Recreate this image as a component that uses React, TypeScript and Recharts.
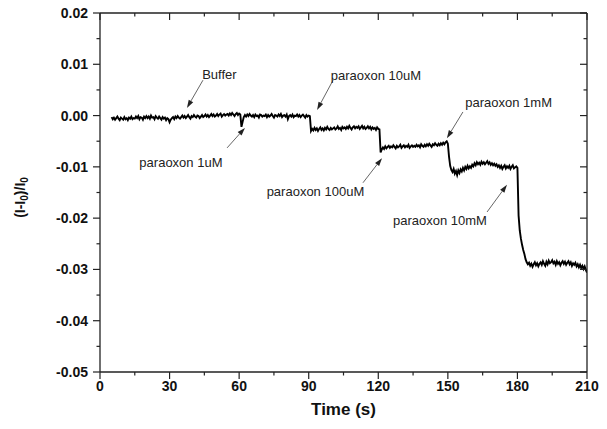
import React from 'react';
import { LineChart, Line, XAxis, YAxis, ReferenceLine, ReferenceDot } from 'recharts';

const SAMPLE_STEP = 0.5;

const bufferStart = 5;
const bufferTrace = [
  -3, -7, -4, -8, -5, -2, -6, -9, -4, -6,
  -8, -3, -7, -5, -9, -4, -6, -2, -7, -5,
  -6, -2, -5, -1, -7, -3, -4, -8, -2, -5,
  -1, -5, -2, -6, 0, -4, -3, -7, -1, -4,
  -6, -2, -5, -8, -3, -6, -4, -9, -5, -7,
  -13, -8, -5, -3, -7, -2, -5, -1, -4, -6,
  -3, 0, -4, -1, -5, -2, 1, -3, -6, -1,
  -3, 1, -2, -4, 0, -1, -5, -2, 1, -3,
  -1, 2, -2, 1, -3, 0, 3, -1, 2, -2,
  0, 3, -1, 2, 4, -2, 1, 3, 0, 2,
  3, 0, 4, 1, 5, 2, -1, 3, 5, 1,
  4, 2,
];

const uM1Start = 61;
const uM1Trace = [
  -22, -12, -3, 1, -2, 2, -1, 3, 0, -2,
  1, -3, 2, -1, 0, -4, 2, 1, -2, 0,
  -1, 2, -3, 1, -2, 0, 3, -1, -4, 1,
  0, -2, 2, -1, 3, -3, 0, 1, -2, 2,
  -7, -1, 1, -2, 2, -3, 0, -1, 2, -2,
  1, -3, 0, 2, -1, -4, 1, -2, 0, -1,
];

const uM10Start = 91;
const uM10Trace = [
  -30, -26, -29, -24, -28, -25, -30, -26, -23, -28,
  -25, -29, -24, -27, -22, -26, -28, -24, -27, -25,
  -23, -27, -25, -21, -26, -24, -28, -22, -25, -23,
  -26, -22, -25, -20, -24, -27, -23, -21, -25, -22,
  -24, -21, -26, -23, -20, -25, -22, -26, -24, -21,
  -25, -22, -27, -23, -26, -24, -28, -23, -26, -27,
];

const uM100Start = 121;
const uM100Trace = [
  -72, -66, -62, -65, -60, -64, -61, -59, -63, -60,
  -62, -58, -61, -64, -59, -62, -60, -57, -63, -60,
  -58, -62, -59, -61, -57, -63, -60, -58, -61, -59,
  -61, -57, -60, -58, -62, -56, -59, -61, -57, -60,
  -56, -59, -55, -58, -61, -56, -58, -54, -57, -59,
  -55, -58, -54, -57, -53, -56, -52, -50,
  -55,
];

const mM1Start = 150.5;
const mM1Trace = [
  -80, -98, -106, -110, -104, -113, -108, -116, -107,
  -112, -105, -109, -102, -107, -100, -104, -98, -103, -99,
  -102, -96, -99, -93, -97, -91, -95, -92, -96, -90,
  -94, -91, -95, -92, -89, -94, -91, -96, -93, -97,
  -94, -98, -95, -100, -97, -102, -98, -104, -100, -97,
  -103, -99, -102, -98, -104, -100, -97, -103, -101, -99,
  -102,
];

const mM10Start = 180.5;
const mM10Trace = [
  -195, -224, -240, -252, -262, -270, -280, -286, -290,
  -287, -293, -289, -295, -290, -286, -292, -288, -294, -289,
  -286, -291, -284, -289, -293, -285, -290, -283, -288, -286,
  -282, -288, -285, -291, -284, -289, -286, -292, -287, -284,
  -289, -285, -291, -287, -284, -290, -286, -293, -288, -291,
  -287, -294, -290, -296, -291, -297, -293, -299, -294, -301,
  -306,
];

const xTicks = [0, 15, 30, 45, 60, 75, 90, 105, 120, 135, 150, 165, 180, 195, 210];
const yTicks = [-0.05, -0.045, -0.04, -0.035, -0.03, -0.025, -0.02, -0.015, -0.01, -0.005, 0, 0.005, 0.01, 0.015, 0.02];

// label text, label centre, arrow tail and arrow head (data coords)
const annotations = [
  { text: 'Buffer', at: [51.5, 0.0081], from: [44.4, 0.0069], to: [37.5, 0.0015] },
  { text: 'paraoxon 1uM', at: [34.9, -0.0092], from: [54.8, -0.0063], to: [62.5, -0.0024] },
  { text: 'paraoxon 10uM', at: [119.0, 0.0079], from: [100.5, 0.0069], to: [93.6, 0.0011] },
  { text: 'paraoxon 100uM', at: [92.9, -0.0149], from: [113.4, -0.0131], to: [121.6, -0.0083] },
  { text: 'paraoxon 1mM', at: [176.2, 0.0025], from: [156.5, 0.0007], to: [149.6, -0.0044] },
  { text: 'paraoxon 10mM', at: [146.6, -0.0204], from: [166.9, -0.0188], to: [175.5, -0.0135] },
];

const segments: [number, number[]][] = [
  [bufferStart, bufferTrace],
  [uM1Start, uM1Trace],
  [uM10Start, uM10Trace],
  [uM100Start, uM100Trace],
  [mM1Start, mM1Trace],
  [mM10Start, mM10Trace],
];

const data = segments.flatMap(([start, vals]) =>
  vals.map((v, i) => ({ t: start + i * SAMPLE_STEP, v: v / 10000 }))
);

const FONT = '"Liberation Sans", Arial, Helvetica, sans-serif';
const AXIS = '#222';

const isMajorX = (v: number) => v % 30 === 0;
const isMajorY = (v: number) => Math.round(v * 1000) % 10 === 0;

const BottomTick = (props: any) => {
  const { x, y, payload } = props;
  const major = isMajorX(payload.value);
  return (
    <g>
      <line x1={x} y1={y} x2={x} y2={y + (major ? 7 : 3.5)} stroke={AXIS} strokeWidth={1.2} />
      {major && (
        <text x={x} y={y + 19} textAnchor="middle" fontSize={14} fontWeight="bold" fontFamily={FONT} fill="#111">
          {payload.value}
        </text>
      )}
    </g>
  );
};

const TopTick = (props: any) => {
  const { x, y, payload } = props;
  const major = isMajorX(payload.value);
  return <line x1={x} y1={y} x2={x} y2={y + (major ? 7 : 3.5)} stroke={AXIS} strokeWidth={1.2} />;
};

const LeftTick = (props: any) => {
  const { x, y, payload } = props;
  const major = isMajorY(payload.value);
  return (
    <g>
      <line x1={x} y1={y} x2={x - (major ? 7 : 3.5)} y2={y} stroke={AXIS} strokeWidth={1.2} />
      {major && (
        <text x={x - 12} y={y + 5} textAnchor="end" fontSize={14} fontWeight="bold" fontFamily={FONT} fill="#111">
          {payload.value.toFixed(2)}
        </text>
      )}
    </g>
  );
};

const RightTick = (props: any) => {
  const { x, y, payload } = props;
  const major = isMajorY(payload.value);
  return <line x1={x} y1={y} x2={x - (major ? 7 : 3.5)} y2={y} stroke={AXIS} strokeWidth={1.2} />;
};

const Arrow = (props: any) => {
  const { x1, y1, x2, y2 } = props;
  const ang = Math.atan2(y2 - y1, x2 - x1);
  const len = 8;
  const half = 2.6;
  const bx = x2 - len * Math.cos(ang);
  const by = y2 - len * Math.sin(ang);
  const px = -Math.sin(ang) * half;
  const py = Math.cos(ang) * half;
  return (
    <g>
      <line x1={x1} y1={y1} x2={bx} y2={by} stroke="#555" strokeWidth={0.9} />
      <polygon points={`${x2},${y2} ${bx + px},${by + py} ${bx - px},${by - py}`} fill="#222" />
    </g>
  );
};

const AnnotationText = (text: string) => (props: any) => (
  <text x={props.cx} y={props.cy + 4.5} textAnchor="middle" fontSize={13} fontFamily={FONT} fill="#222">
    {text}
  </text>
);

const YLabel = (props: any) => {
  const { viewBox } = props;
  const cx = viewBox.x + 20;
  const cy = viewBox.y + viewBox.height / 2 + 5;
  return (
    <text
      x={cx}
      y={cy}
      transform={`rotate(-90 ${cx} ${cy})`}
      textAnchor="middle"
      dominantBaseline="central"
      fontSize={14}
      fontWeight="bold"
      fontFamily={FONT}
      fill="#111"
    >
      (I-I<tspan fontSize={10} dy={4}>0</tspan>
      <tspan dy={-4}>)/I</tspan>
      <tspan fontSize={10} dy={4}>0</tspan>
    </text>
  );
};

const XLabel = (props: any) => {
  const { viewBox } = props;
  return (
    <text
      x={viewBox.x + viewBox.width / 2}
      y={viewBox.y + 43}
      textAnchor="middle"
      fontSize={17}
      fontWeight="bold"
      fontFamily={FONT}
      fill="#111"
    >
      Time (s)
    </text>
  );
};

export default function App() {
  return (
    <div style={{ position: 'absolute', left: 0, top: 0, background: '#fff' }}>
      <LineChart width={607} height={429} data={data} margin={{ top: 12, right: 19, bottom: 0, left: 0 }}>
        <XAxis
          dataKey="t"
          type="number"
          domain={[0, 210]}
          ticks={xTicks}
          interval={0}
          allowDataOverflow
          height={57}
          tickSize={0}
          tickMargin={0}
          tickLine={false}
          tick={<BottomTick />}
          axisLine={{ stroke: AXIS, strokeWidth: 1.3 }}
          label={<XLabel />}
        />
        <XAxis
          xAxisId="top"
          orientation="top"
          dataKey="t"
          type="number"
          domain={[0, 210]}
          ticks={xTicks}
          interval={0}
          allowDataOverflow
          height={1}
          tickSize={0}
          tickMargin={0}
          tickLine={false}
          tick={<TopTick />}
          axisLine={{ stroke: AXIS, strokeWidth: 1.3 }}
        />
        <YAxis
          type="number"
          domain={[-0.05, 0.02]}
          ticks={yTicks}
          interval={0}
          allowDataOverflow
          width={100}
          tickSize={0}
          tickMargin={0}
          tickLine={false}
          tick={<LeftTick />}
          axisLine={{ stroke: AXIS, strokeWidth: 1.3 }}
          label={<YLabel />}
        />
        <YAxis
          yAxisId="right"
          orientation="right"
          type="number"
          domain={[-0.05, 0.02]}
          ticks={yTicks}
          interval={0}
          allowDataOverflow
          width={1}
          tickSize={0}
          tickMargin={0}
          tickLine={false}
          tick={<RightTick />}
          axisLine={{ stroke: AXIS, strokeWidth: 1.3 }}
        />
        <Line
          type="linear"
          dataKey="v"
          stroke="#000"
          strokeWidth={1.9}
          strokeLinejoin="miter"
          dot={false}
          isAnimationActive={false}
        />
        {annotations.map((a) => (
          <ReferenceLine
            key={`arrow-${a.text}`}
            segment={[
              { x: a.from[0], y: a.from[1] },
              { x: a.to[0], y: a.to[1] },
            ]}
            shape={<Arrow />}
          />
        ))}
        {annotations.map((a) => (
          <ReferenceDot key={`label-${a.text}`} x={a.at[0]} y={a.at[1]} r={1} shape={AnnotationText(a.text)} />
        ))}
      </LineChart>
    </div>
  );
}
